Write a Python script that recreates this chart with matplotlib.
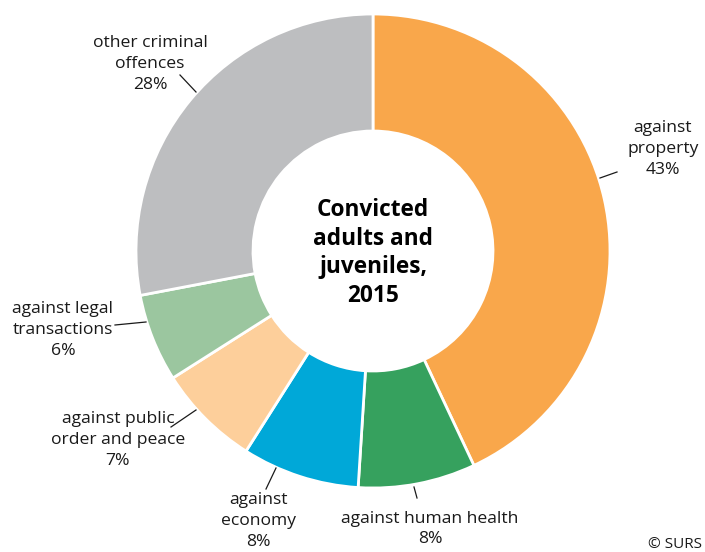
import matplotlib
matplotlib.use("Agg")
import matplotlib.pyplot as plt

# ---- data ----
categories = ["against property", "against human health", "against economy",
              "against public order and peace", "against legal transactions",
              "other criminal offences"]
shares = [43, 8, 8, 7, 6, 28]
label_texts = ["against\nproperty\n43%", "against human health\n8%",
               "against\neconomy\n8%", "against public\norder and peace\n7%",
               "against legal\ntransactions\n6%", "other criminal\noffences\n28%"]
center_title = "Convicted\nadults and\njuveniles,\n2015"
source = "© SURS"

colors = ["#F9A74B", "#36A15E", "#00A8D8", "#FDCF9B", "#9BC69F", "#BDBEC0"]

W, H = 705, 552
fig = plt.figure(figsize=(W / 100, H / 100), dpi=100)
ax = fig.add_axes([0, 0, 1, 1])

def P(x, y):
    return (x, H - y)

cx, cy = P(373, 251)
R = 237
ax.pie(shares, colors=colors, startangle=90, counterclock=False,
       center=(cx, cy), radius=R, frame=True,
       wedgeprops=dict(width=R - 120, edgecolor="white", linewidth=2))
ax.set_xlim(0, W)
ax.set_ylim(0, H)
ax.set_aspect("equal")
ax.axis("off")

font = "Open Sans"
fs = 12.6
# label text centers (pixels) and leader line endpoints (pixels)
label_pos = [(663, 149), (430, 529), (258, 521), (118, 440), (63, 330), (150, 64)]
leaders = [((600, 178), (617, 172)), ((414, 487), (417, 498)),
           ((276, 468), (266, 489)), ((196, 410), (171, 427)),
           ((146, 322), (115, 325)), ((196, 92), (180, 75))]

for txt, (lx, ly), (a, b) in zip(label_texts, label_pos, leaders):
    ax.text(*P(lx, ly), txt, ha="center", va="center", fontsize=fs,
            family=font, color="#1a1a1a", linespacing=1.4)
    ax.plot([P(*a)[0], P(*b)[0]], [P(*a)[1], P(*b)[1]], color="#1a1a1a", lw=0.9)

ax.text(cx, cy - 2, center_title, ha="center", va="center", fontsize=16.3,
        fontweight="bold", family=font, color="black", linespacing=1.27)
ax.text(*P(702, 545), source, ha="right", va="center", fontsize=11,
        family=font, color="#1a1a1a")

fig.savefig("out.png", dpi=100)
